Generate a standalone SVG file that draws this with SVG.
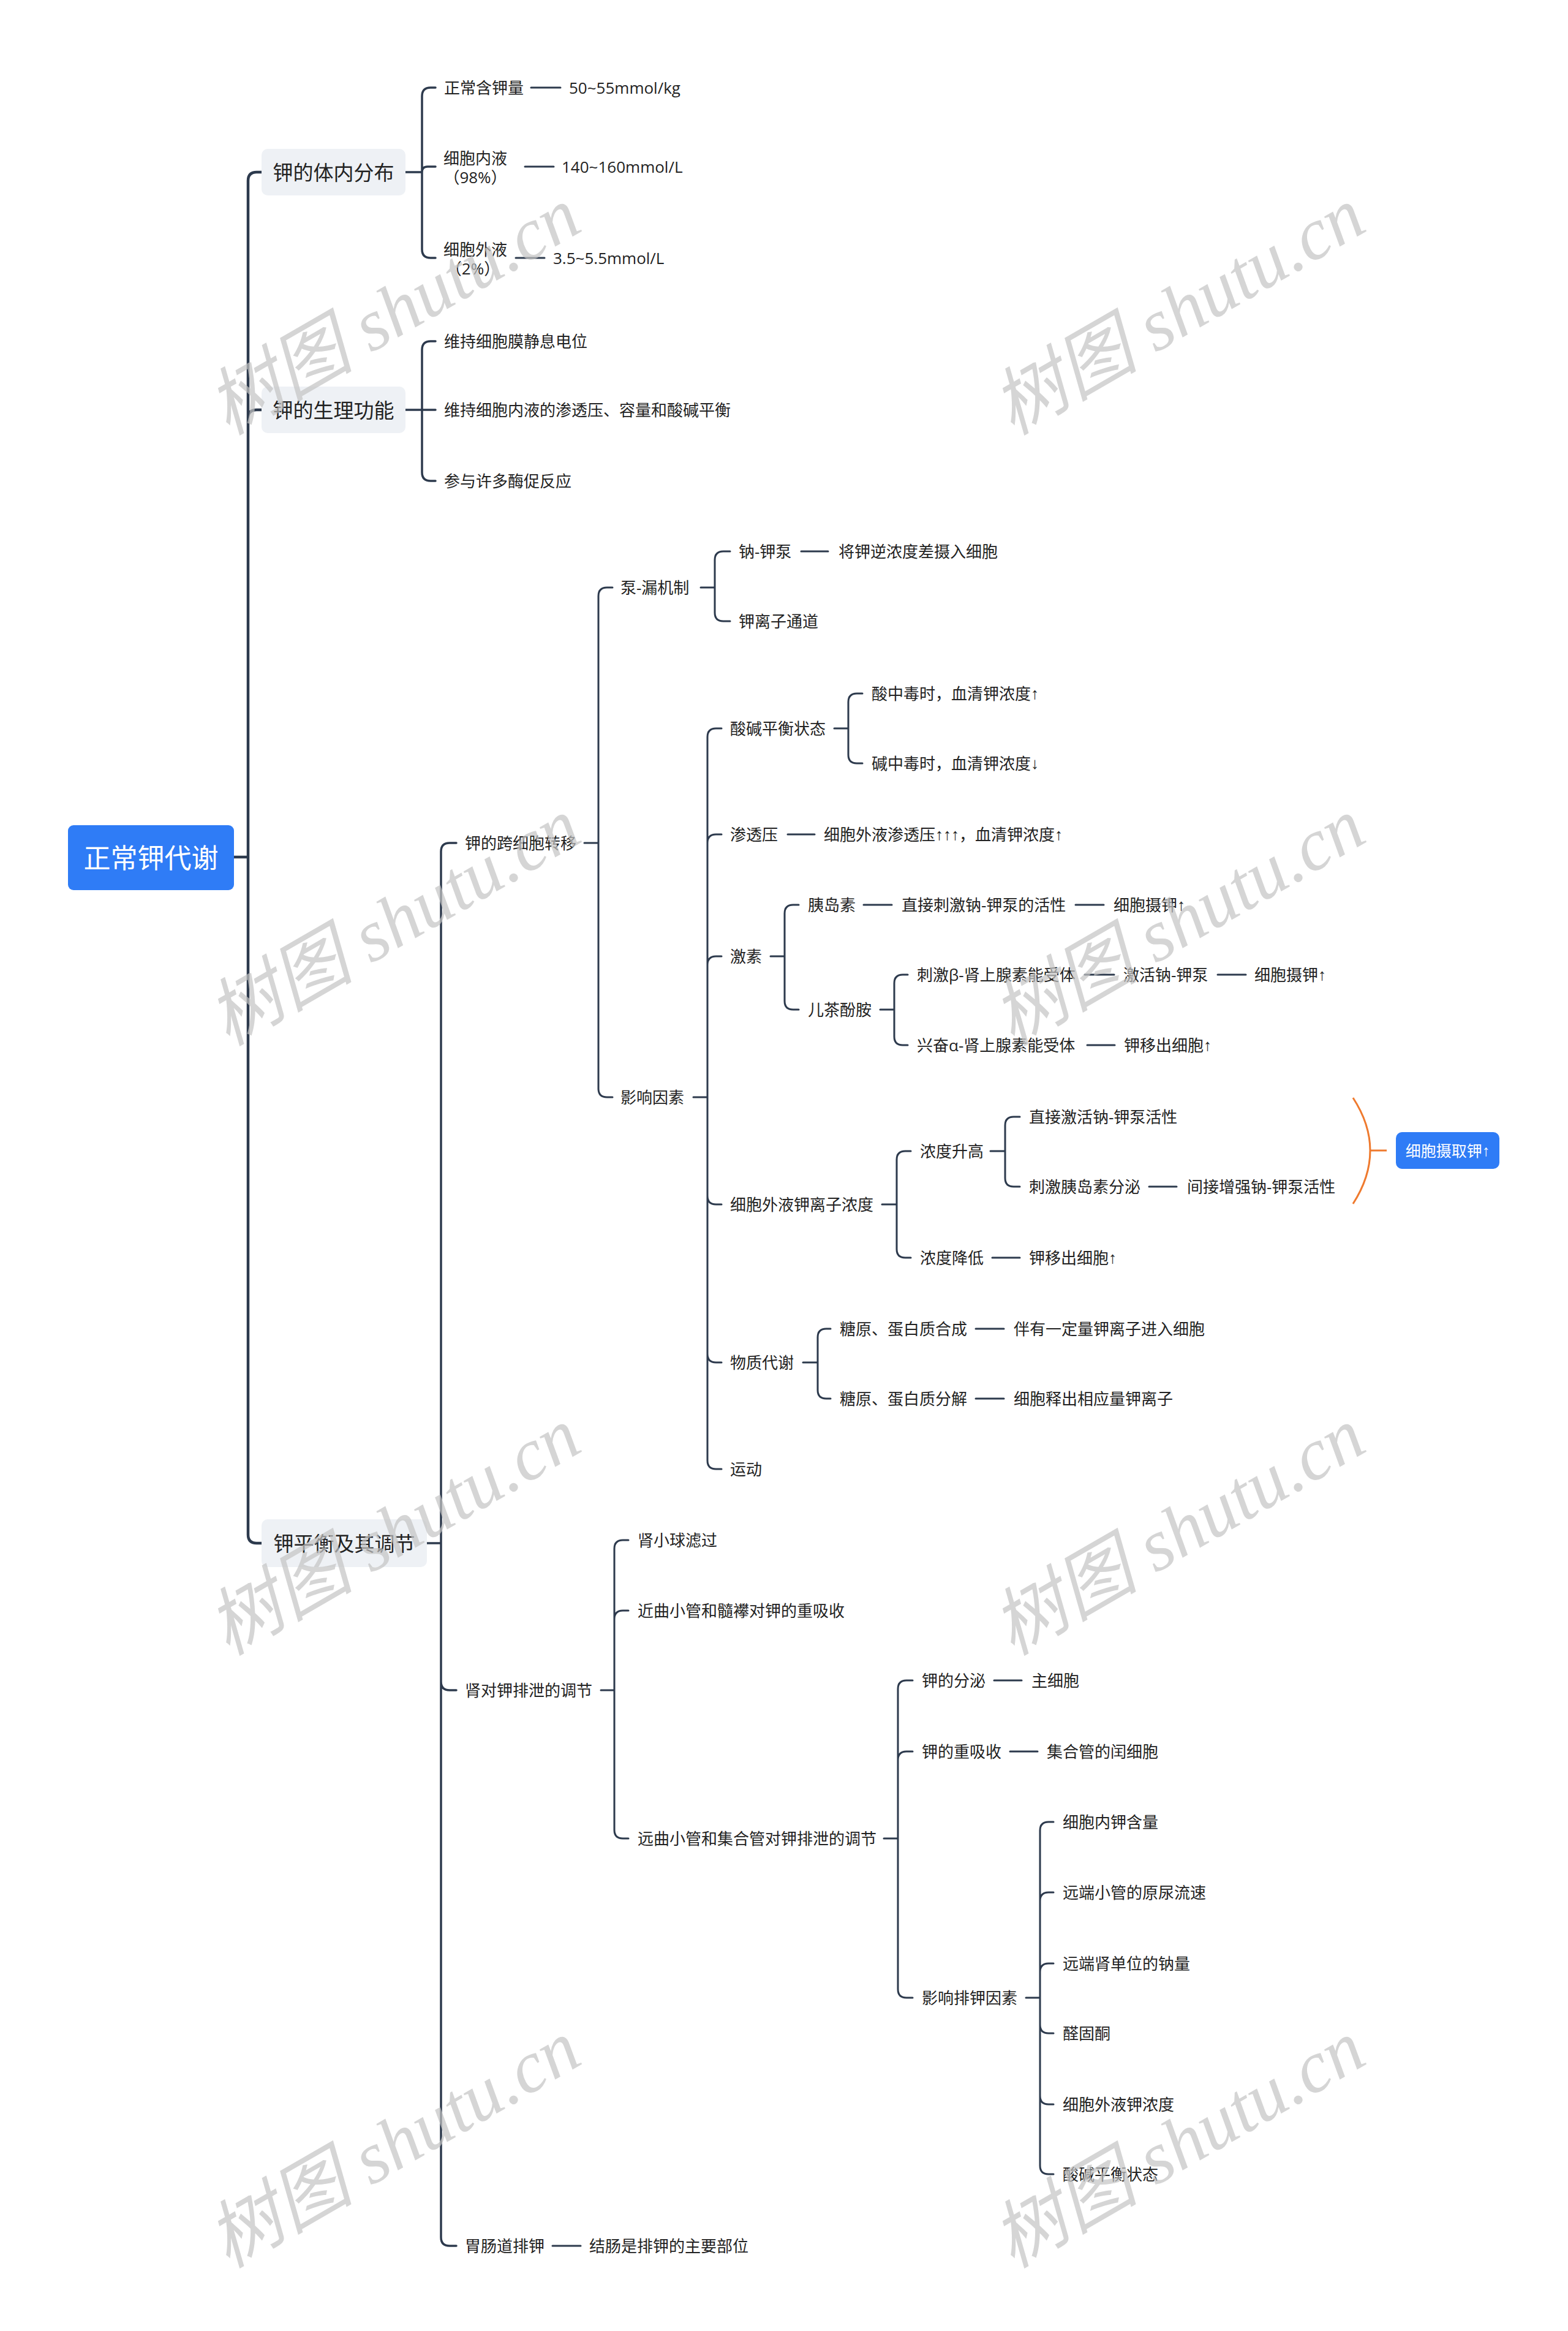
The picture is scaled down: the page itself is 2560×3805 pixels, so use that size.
<svg xmlns="http://www.w3.org/2000/svg" width="2560" height="3805" viewBox="0 0 2560 3805">
<style>
.t{font-family:"Open Sans","Liberation Sans","Noto Sans CJK SC",sans-serif;font-size:26px;fill:#222;dominant-baseline:central}
.ar{font-family:"Liberation Sans","DejaVu Sans",sans-serif}
.l1{font-size:33px}
.rt{font-size:44px;fill:#fff}
.sm{font-size:25px;fill:#fff}
.c{fill:none;stroke:#2d3a4d;stroke-width:3;stroke-linecap:round}
.c0{stroke-width:4.5}
.c1{stroke-width:3.5}
.box1{fill:#eef1f5}
.blue{fill:#2f7cf6}
.or{fill:none;stroke:#ef7a2e;stroke-width:3}
.wm{font-family:"Liberation Serif","Noto Sans CJK SC",serif;font-style:italic;font-size:120px;fill:#c4c4c4;opacity:0.7;text-anchor:middle;dominant-baseline:central}
</style>
<rect width="2560" height="3805" fill="#fff"/>
<g id="connectors">
<path class="c c0" d="M382,1399 H405 M405,1399 V295 Q405,281 419,281 H427 M405,1399 V683 Q405,669 419,669 H427 M405,1399 V2505 Q405,2519 419,2519 H427"/>
<path class="c c1" d="M662,281 H689 M689,281 V157 Q689,143 703,143 H711 M689,281 Q689,272 698,272 H711 M689,281 V407 Q689,421 703,421 H711"/>
<path class="c c1" d="M662,669 H711 M689,669 V571 Q689,557 703,557 H711 M689,669 V771 Q689,785 703,785 H711"/>
<path class="c c1" d="M697,2519 H720 M720,2519 V1390 Q720,1376 734,1376 H745 M720,2519 V2745 Q720,2759 734,2759 H745 M720,2519 V3652 Q720,3666 734,3666 H745"/>
<path class="c" d="M954,1376 H977 M977,1376 V973 Q977,959 991,959 H1000 M977,1376 V1777 Q977,1791 991,1791 H1000"/>
<path class="c" d="M1144,959 H1167 M1167,959 V914 Q1167,900 1181,900 H1192 M1167,959 V1000 Q1167,1014 1181,1014 H1192"/>
<path class="c" d="M1132,1791 H1155 M1155,1791 V1203 Q1155,1189 1169,1189 H1178 M1155,1791 V1376 Q1155,1362 1169,1362 H1178 M1155,1791 V1575 Q1155,1561 1169,1561 H1178 M1155,1791 V1952 Q1155,1966 1169,1966 H1178 M1155,1791 V2210 Q1155,2224 1169,2224 H1178 M1155,1791 V2384 Q1155,2398 1169,2398 H1178"/>
<path class="c" d="M1362,1189 H1385 M1385,1189 V1146 Q1385,1132 1399,1132 H1408 M1385,1189 V1232 Q1385,1246 1399,1246 H1408"/>
<path class="c" d="M1258,1561 H1281 M1281,1561 V1491 Q1281,1477 1295,1477 H1304 M1281,1561 V1634 Q1281,1648 1295,1648 H1304"/>
<path class="c" d="M1437,1648 H1460 M1460,1648 V1605 Q1460,1591 1474,1591 H1482 M1460,1648 V1692 Q1460,1706 1474,1706 H1482"/>
<path class="c" d="M1440,1966 H1464 M1464,1966 V1893 Q1464,1879 1478,1879 H1487 M1464,1966 V2039 Q1464,2053 1478,2053 H1487"/>
<path class="c" d="M1617,1879 H1641 M1641,1879 V1837 Q1641,1823 1655,1823 H1665 M1641,1879 V1923 Q1641,1937 1655,1937 H1665"/>
<path class="c" d="M1311,2224 H1335 M1335,2224 V2183 Q1335,2169 1349,2169 H1356 M1335,2224 V2269 Q1335,2283 1349,2283 H1356"/>
<path class="c" d="M981,2759 H1003 M1003,2759 V2528 Q1003,2514 1017,2514 H1026 M1003,2759 V2643 Q1003,2629 1017,2629 H1026 M1003,2759 V2987 Q1003,3001 1017,3001 H1026"/>
<path class="c" d="M1443,3001 H1466 M1466,3001 V2757 Q1466,2743 1480,2743 H1490 M1466,3001 V2873 Q1466,2859 1480,2859 H1490 M1466,3001 V3247 Q1466,3261 1480,3261 H1490"/>
<path class="c" d="M1675,3261 H1698 M1698,3261 V2988 Q1698,2974 1712,2974 H1720 M1698,3261 V3103 Q1698,3089 1712,3089 H1720 M1698,3261 V3219 Q1698,3205 1712,3205 H1720 M1698,3261 V3305 Q1698,3319 1712,3319 H1720 M1698,3261 V3421 Q1698,3435 1712,3435 H1720 M1698,3261 V3535 Q1698,3549 1712,3549 H1720"/>
<path class="c" d="M867,143 H915 M857,272 H904 M842,421 H889 M1308,900 H1352 M1286,1362 H1330 M1410,1477 H1456 M1756,1477 H1802 M1771,1591 H1819 M1988,1591 H2034 M1775,1706 H1820 M1876,1937 H1921 M1620,2053 H1665 M1593,2169 H1639 M1593,2283 H1639 M1623,2743 H1668 M1649,2859 H1694 M902,3666 H948"/>
<path class="or" d="M2209,1792 Q2265,1878 2209,1965 M2237,1878 H2264"/>
</g>
<g id="root"><rect class="blue" x="111" y="1347" width="271" height="106" rx="9"/><text class="t rt" x="246.5" y="1400" text-anchor="middle">正常钾代谢</text></g>
<g id="n-dist"><rect class="box1" x="427" y="243" width="235" height="76" rx="10"/><text class="t l1" x="544.5" y="281" text-anchor="middle">钾的体内分布</text></g>
<g id="n-func"><rect class="box1" x="427" y="631" width="235" height="76" rx="10"/><text class="t l1" x="544.5" y="669" text-anchor="middle">钾的生理功能</text></g>
<g id="n-bal"><rect class="box1" x="427" y="2480" width="270" height="78" rx="10"/><text class="t l1" x="562" y="2519" text-anchor="middle">钾平衡及其调节</text></g>
<g id="n-a1"><text class="t" x="725" y="143">正常含钾量</text></g>
<g id="n-a1a"><text class="t" x="929" y="143">50~55mmol/kg</text></g>
<g id="n-a2"><text class="t" x="776" y="258" text-anchor="middle">细胞内液</text><text class="t" x="776" y="289" text-anchor="middle">（98%）</text></g>
<g id="n-a2a"><text class="t" x="917" y="272">140~160mmol/L</text></g>
<g id="n-a3"><text class="t" x="776" y="407" text-anchor="middle">细胞外液</text><text class="t" x="772" y="438" text-anchor="middle">（2%）</text></g>
<g id="n-a3a"><text class="t" x="903" y="421">3.5~5.5mmol/L</text></g>
<g id="n-b1"><text class="t" x="725" y="557">维持细胞膜静息电位</text></g>
<g id="n-b2"><text class="t" x="725" y="669">维持细胞内液的渗透压、容量和酸碱平衡</text></g>
<g id="n-b3"><text class="t" x="725" y="785">参与许多酶促反应</text></g>
<g id="n-c1"><text class="t" x="759" y="1376">钾的跨细胞转移</text></g>
<g id="n-c2"><text class="t" x="759" y="2759">肾对钾排泄的调节</text></g>
<g id="n-c3"><text class="t" x="759" y="3666">胃肠道排钾</text></g>
<g id="n-c3a"><text class="t" x="962" y="3666">结肠是排钾的主要部位</text></g>
<g id="n-pump"><text class="t" x="1013" y="959">泵-漏机制</text></g>
<g id="n-nak"><text class="t" x="1206" y="900">钠-钾泵</text></g>
<g id="n-nak1"><text class="t" x="1369" y="900">将钾逆浓度差摄入细胞</text></g>
<g id="n-kch"><text class="t" x="1206" y="1014">钾离子通道</text></g>
<g id="n-fac"><text class="t" x="1013" y="1791">影响因素</text></g>
<g id="n-ab"><text class="t" x="1192" y="1189">酸碱平衡状态</text></g>
<g id="n-ab1"><text class="t" x="1423" y="1132">酸中毒时，血清钾浓度<tspan class="ar">↑</tspan></text></g>
<g id="n-ab2"><text class="t" x="1423" y="1246">碱中毒时，血清钾浓度<tspan class="ar">↓</tspan></text></g>
<g id="n-osm"><text class="t" x="1192" y="1362">渗透压</text></g>
<g id="n-osm1"><text class="t" x="1345" y="1362">细胞外液渗透压<tspan class="ar">↑↑↑</tspan>，血清钾浓度<tspan class="ar">↑</tspan></text></g>
<g id="n-hor"><text class="t" x="1192" y="1561">激素</text></g>
<g id="n-ins"><text class="t" x="1319" y="1477">胰岛素</text></g>
<g id="n-ins1"><text class="t" x="1472" y="1477">直接刺激钠-钾泵的活性</text></g>
<g id="n-ins2"><text class="t" x="1818" y="1477">细胞摄钾<tspan class="ar">↑</tspan></text></g>
<g id="n-cat"><text class="t" x="1319" y="1648">儿茶酚胺</text></g>
<g id="n-beta"><text class="t" x="1497" y="1591">刺激β-肾上腺素能受体</text></g>
<g id="n-beta1"><text class="t" x="1834" y="1591">激活钠-钾泵</text></g>
<g id="n-beta2"><text class="t" x="2048" y="1591">细胞摄钾<tspan class="ar">↑</tspan></text></g>
<g id="n-alpha"><text class="t" x="1497" y="1706">兴奋α-肾上腺素能受体</text></g>
<g id="n-alpha1"><text class="t" x="1835" y="1706">钾移出细胞<tspan class="ar">↑</tspan></text></g>
<g id="n-ecf"><text class="t" x="1192" y="1966">细胞外液钾离子浓度</text></g>
<g id="n-up"><text class="t" x="1502" y="1879">浓度升高</text></g>
<g id="n-up1"><text class="t" x="1680" y="1823">直接激活钠-钾泵活性</text></g>
<g id="n-up2"><text class="t" x="1680" y="1937">刺激胰岛素分泌</text></g>
<g id="n-up2a"><text class="t" x="1938" y="1937">间接增强钠-钾泵活性</text></g>
<g id="n-sum"><rect class="blue" x="2279" y="1848" width="169" height="60" rx="10"/><text class="t sm" x="2363.5" y="1878" text-anchor="middle">细胞摄取钾<tspan class="ar">↑</tspan></text></g>
<g id="n-down"><text class="t" x="1502" y="2053">浓度降低</text></g>
<g id="n-down1"><text class="t" x="1680" y="2053">钾移出细胞<tspan class="ar">↑</tspan></text></g>
<g id="n-met"><text class="t" x="1192" y="2224">物质代谢</text></g>
<g id="n-met1"><text class="t" x="1371" y="2169">糖原、蛋白质合成</text></g>
<g id="n-met1a"><text class="t" x="1655" y="2169">伴有一定量钾离子进入细胞</text></g>
<g id="n-met2"><text class="t" x="1371" y="2283">糖原、蛋白质分解</text></g>
<g id="n-met2a"><text class="t" x="1655" y="2283">细胞释出相应量钾离子</text></g>
<g id="n-ex"><text class="t" x="1192" y="2398">运动</text></g>
<g id="n-glo"><text class="t" x="1041" y="2514">肾小球滤过</text></g>
<g id="n-prox"><text class="t" x="1041" y="2629">近曲小管和髓襻对钾的重吸收</text></g>
<g id="n-dist2"><text class="t" x="1041" y="3001">远曲小管和集合管对钾排泄的调节</text></g>
<g id="n-sec"><text class="t" x="1505" y="2743">钾的分泌</text></g>
<g id="n-sec1"><text class="t" x="1684" y="2743">主细胞</text></g>
<g id="n-reab"><text class="t" x="1505" y="2859">钾的重吸收</text></g>
<g id="n-reab1"><text class="t" x="1709" y="2859">集合管的闰细胞</text></g>
<g id="n-exf"><text class="t" x="1505" y="3261">影响排钾因素</text></g>
<g id="n-exf1"><text class="t" x="1735" y="2974">细胞内钾含量</text></g>
<g id="n-exf2"><text class="t" x="1735" y="3089">远端小管的原尿流速</text></g>
<g id="n-exf3"><text class="t" x="1735" y="3205">远端肾单位的钠量</text></g>
<g id="n-exf4"><text class="t" x="1735" y="3319">醛固酮</text></g>
<g id="n-exf5"><text class="t" x="1735" y="3435">细胞外液钾浓度</text></g>
<g id="n-exf6"><text class="t" x="1735" y="3549">酸碱平衡状态</text></g>
<g id="watermark">
<text class="wm" x="643" y="508" transform="rotate(-30 643 508)">树图 shutu.cn</text>
<text class="wm" x="1924" y="508" transform="rotate(-30 1924 508)">树图 shutu.cn</text>
<text class="wm" x="643" y="1505" transform="rotate(-30 643 1505)">树图 shutu.cn</text>
<text class="wm" x="1924" y="1505" transform="rotate(-30 1924 1505)">树图 shutu.cn</text>
<text class="wm" x="643" y="2500" transform="rotate(-30 643 2500)">树图 shutu.cn</text>
<text class="wm" x="1924" y="2500" transform="rotate(-30 1924 2500)">树图 shutu.cn</text>
<text class="wm" x="643" y="3500" transform="rotate(-30 643 3500)">树图 shutu.cn</text>
<text class="wm" x="1924" y="3500" transform="rotate(-30 1924 3500)">树图 shutu.cn</text>
</g>
</svg>
